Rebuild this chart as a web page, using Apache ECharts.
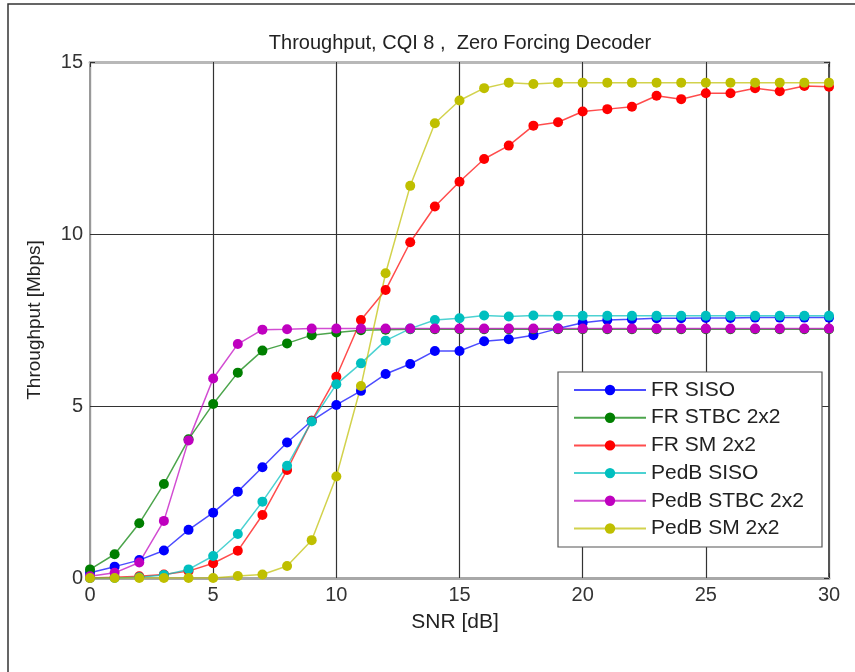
<!DOCTYPE html>
<html>
<head>
<meta charset="utf-8">
<script src="https://cdn.jsdelivr.net/npm/echarts@6/dist/echarts.min.js"></script>
<style>
html,body{margin:0;padding:0;background:#fff;}
#chart{width:855px;height:672px;}
</style>
</head>
<body>
<div id="chart"></div>
<script>
var snr = [0,1,2,3,4,5,6,7,8,9,10,11,12,13,14,15,16,17,18,19,20,21,22,23,24,25,26,27,28,29,30];
var frSiso = [0.15,0.33,0.52,0.8,1.4,1.9,2.51,3.22,3.94,4.57,5.03,5.44,5.93,6.22,6.6,6.6,6.88,6.94,7.06,7.25,7.42,7.5,7.52,7.55,7.55,7.56,7.56,7.57,7.57,7.57,7.57];
var frStbc = [0.25,0.69,1.59,2.73,4.03,5.06,5.97,6.61,6.82,7.06,7.14,7.2,7.22,7.23,7.23,7.23,7.23,7.23,7.23,7.23,7.23,7.23,7.23,7.23,7.23,7.23,7.23,7.23,7.23,7.23,7.23];
var frSm = [0.0,0.02,0.05,0.1,0.2,0.43,0.79,1.83,3.14,4.57,5.85,7.5,8.37,9.76,10.8,11.52,12.18,12.57,13.15,13.25,13.56,13.63,13.7,14.02,13.92,14.09,14.09,14.24,14.15,14.3,14.28];
var pedSiso = [0.0,0.0,0.02,0.09,0.25,0.64,1.28,2.22,3.26,4.55,5.63,6.24,6.9,7.25,7.5,7.55,7.63,7.6,7.63,7.62,7.62,7.62,7.62,7.62,7.62,7.62,7.62,7.62,7.62,7.62,7.62];
var pedStbc = [0.05,0.15,0.45,1.66,4.0,5.8,6.8,7.22,7.23,7.25,7.25,7.25,7.25,7.25,7.25,7.25,7.25,7.25,7.25,7.25,7.25,7.25,7.25,7.25,7.25,7.25,7.25,7.25,7.25,7.25,7.25];
var pedSm = [0,0,0,0,0,0,0.06,0.1,0.35,1.1,2.95,5.58,8.86,11.4,13.22,13.88,14.24,14.4,14.36,14.4,14.4,14.4,14.4,14.4,14.4,14.4,14.4,14.4,14.4,14.4,14.4];

var seriesNames = ['FR SISO','FR STBC 2x2','FR SM 2x2','PedB SISO','PedB STBC 2x2','PedB SM 2x2'];
var seriesData = [frSiso, frStbc, frSm, pedSiso, pedStbc, pedSm];
var seriesColors = ['#0000ff','#007f00','#ff0000','#00bfbf','#bf00bf','#bfbf00'];

var titleText = 'Throughput, CQI 8 ,  Zero Forcing Decoder';
var xName = 'SNR [dB]';
var yName = 'Throughput [Mbps]';

var FONT = 'Liberation Sans, Arial, sans-serif';
var chart = echarts.init(document.getElementById('chart'), null, {renderer:'canvas'});

var series = seriesNames.map(function(n, i){
  return {
    name: n, type: 'line', xAxisIndex: 0, yAxisIndex: 0,
    data: snr.map(function(x, j){ return [x, seriesData[i][j]]; }),
    symbol: 'circle', symbolSize: 10, showSymbol: true,
    itemStyle: {color: seriesColors[i]},
    lineStyle: {color: seriesColors[i], width: 1.5, opacity: 0.7},
    emphasis: {disabled: true},
    animation: false
  };
});

var option = {
  backgroundColor: '#ffffff',
  animation: false,
  title: {
    text: titleText, left: 455, top: 28, textAlign: 'center',
    textStyle: {fontFamily: FONT, fontSize: 20, fontWeight: 'normal', color: '#222'}
  },
  grid: {left: 90, right: 26, top: 62, bottom: 94},
  legend: {
    orient: 'vertical', left: 573, top: 379, z: 10,
    itemWidth: 72, itemHeight: 13, itemGap: 5.7, itemTextGap: 1,
    padding: 0,
    data: seriesNames,
    textStyle: {fontFamily: FONT, fontSize: 21, color: '#222', lineHeight: 22}
  },
  xAxis: [{
    type: 'value', min: 0, max: 30, interval: 5,
    axisLine: {show: true, onZero: false, lineStyle: {color: '#a8a8a8', width: 3}},
    axisTick: {show: true, inside: true, length: 5, lineStyle: {color: '#333'}},
    axisLabel: {margin: 7, fontFamily: FONT, fontSize: 20, color: '#333'},
    splitLine: {show: true, lineStyle: {color: '#333', width: 1.2}}
  }, {
    type: 'value', min: 0, max: 30, interval: 5, position: 'top',
    axisLine: {show: true, onZero: false, lineStyle: {color: '#b8b8b8', width: 3}},
    axisTick: {show: true, inside: true, length: 5, lineStyle: {color: '#333'}},
    axisLabel: {show: false}, splitLine: {show: false}
  }],
  yAxis: [{
    type: 'value', min: 0, max: 15, interval: 5,
    axisLine: {show: true, onZero: false, lineStyle: {color: '#999', width: 2}},
    axisTick: {show: true, inside: true, length: 5, lineStyle: {color: '#333'}},
    axisLabel: {margin: 7, fontFamily: FONT, fontSize: 20, color: '#333'},
    splitLine: {show: true, lineStyle: {color: '#333', width: 1.2}}
  }, {
    type: 'value', min: 0, max: 15, interval: 5, position: 'right',
    axisLine: {show: true, onZero: false, lineStyle: {color: '#555', width: 2}},
    axisTick: {show: true, inside: true, length: 5, lineStyle: {color: '#333'}},
    axisLabel: {show: false}, splitLine: {show: false}
  }],
  graphic: [
    {type: 'polyline', z: 100, shape: {points: [[8,672],[8,4],[855,4]]}, style: {stroke: '#333', lineWidth: 1.5, fill: null}},
    {type: 'rect', z: 8, shape: {x: 558, y: 372, width: 264, height: 175}, style: {fill: '#fff', stroke: '#555', lineWidth: 1.2}},
    {type: 'text', z: 10, x: 455, y: 622, style: {text: xName, fontFamily: FONT, fontSize: 21, fill: '#222', textAlign: 'center', textVerticalAlign: 'middle'}},
    {type: 'text', z: 10, x: 35, y: 320, rotation: Math.PI/2, style: {text: yName, fontFamily: FONT, fontSize: 19, fill: '#222', textAlign: 'center', textVerticalAlign: 'middle'}}
  ],
  series: series
};
chart.setOption(option);
</script>
</body>
</html>
